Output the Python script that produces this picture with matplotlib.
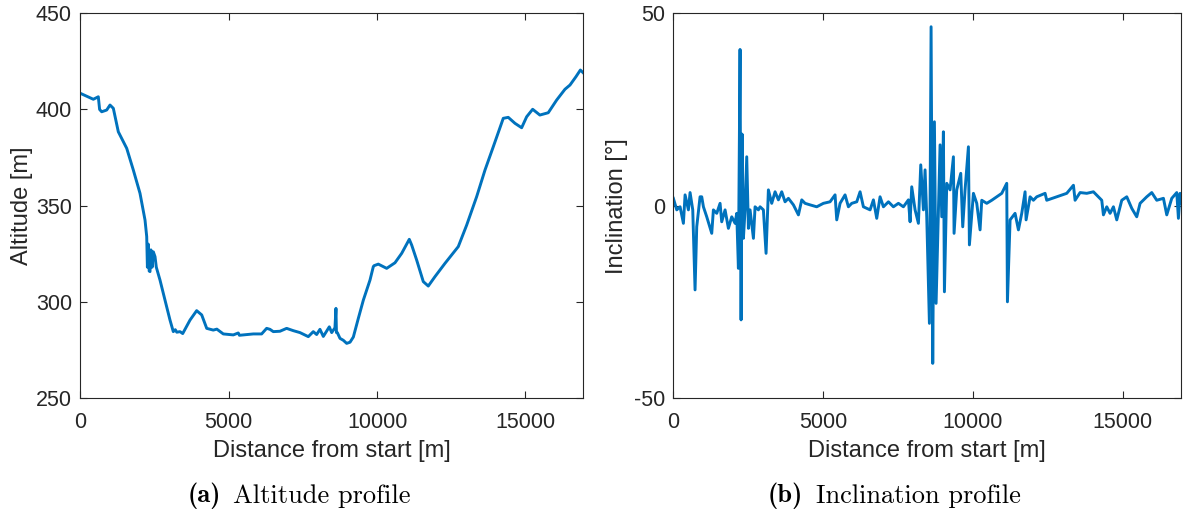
import matplotlib
matplotlib.use("Agg")
import matplotlib.pyplot as plt

plt.rcParams['font.family'] = ['Liberation Sans', 'DejaVu Sans']
plt.rcParams['axes.unicode_minus'] = False

LINE = "#0072BD"
DARK = "#262626"

# altitude profile (distance [m], altitude [m])
alt_dist = [0, 438, 606, 650, 720, 888, 1000, 1112, 1280, 1563, 1786, 2011, 2180, 2237,
            2260, 2290, 2320, 2348, 2380, 2420, 2460, 2517, 2560, 2685, 2853, 3022, 3133,
            3200, 3250, 3359, 3450, 3696, 3920, 4090, 4259, 4480, 4600, 4818, 5155, 5323,
            5360, 5829, 6109, 6278, 6390, 6502, 6727, 6952, 7177, 7401, 7682, 7850, 7963,
            8075, 8188, 8390, 8470, 8580, 8614, 8630, 8660, 8750, 8862, 8975, 9088, 9200,
            9368, 9537, 9761, 9873, 9900, 10041, 10323, 10603, 10829, 11085, 11166, 11334,
            11557, 11725, 11951, 12288, 12736, 13019, 13356, 13636, 13915, 14252, 14420,
            14646, 14871, 15040, 15242, 15485, 15768, 16051, 16331, 16500, 16700, 16850, 16950]
altitude = [408.4, 405.3, 406.6, 400, 398.8, 399.7, 402.3, 400.6, 388.4, 379.8, 368.5, 356.4,
            342.5, 333.9, 318, 330, 316, 315.7, 327, 318, 326, 323.5, 318, 311.3, 300.9, 290.5,
            284.5, 285.5, 284.2, 284.5, 283.5, 290.5, 295.4, 293.2, 286.2, 285.3, 285.8, 283.3,
            282.8, 283.8, 282.6, 283.3, 283.3, 286.2, 285.7, 284.5, 284.7, 286.2, 285, 284,
            281.9, 284.5, 283, 285.7, 282, 287, 284, 286.5, 296.6, 284, 284, 281, 280, 278.4,
            279, 281.7, 291.4, 300.9, 311.3, 318.3, 318.8, 319.6, 317.4, 320.3, 325.2, 332.5,
            329.5, 321.7, 310.5, 308.2, 313.1, 320.0, 328.7, 339.9, 354.7, 368.5, 380.6, 395.4,
            395.9, 392.8, 390.5, 396.2, 400.1, 397.1, 398.3, 404.9, 410.5, 412.7, 417, 420.5, 419]

# inclination profile (distance [m], inclination [deg])
inc_dist = [0, 113, 224, 335, 391, 502, 558, 647, 724, 780, 891, 947, 1003, 1114, 1281, 1336,
            1448, 1559, 1614, 1726, 1837, 1948, 2060, 2115, 2171, 2226, 2260, 2293, 2338, 2393,
            2449, 2505, 2560, 2672, 2727, 2838, 2894, 3005, 3094, 3172, 3283, 3395, 3506, 3617,
            3728, 3840, 4007, 4174, 4285, 4396, 4563, 4785, 5008, 5230, 5397, 5453, 5564, 5731,
            5842, 5954, 6121, 6232, 6343, 6566, 6677, 6788, 6899, 7011, 7178, 7344, 7511, 7678,
            7845, 7901, 7956, 8068, 8179, 8257, 8346, 8401, 8457, 8546, 8602, 8657, 8713, 8769,
            8847, 8902, 8958, 9013, 9047, 9125, 9236, 9347, 9369, 9458, 9592, 9658, 9736, 9848,
            9881, 10015, 10126, 10237, 10293, 10460, 10627, 10794, 10961, 11127, 11150, 11239,
            11405, 11517, 11628, 11739, 11773, 11906, 12017, 12129, 12407, 12462, 12796, 13130,
            13353, 13408, 13575, 13798, 14020, 14298, 14354, 14465, 14576, 14688, 14799, 14966,
            15133, 15300, 15466, 15578, 15800, 15967, 16134, 16357, 16468, 16635, 16802, 16857,
            16913, 16935]
inclination = [1.9, -1.1, -0.3, -4.6, 2.8, -1.1, 3.4, -1.1, -21.9, -5.5, 2.3, 2.3, -0.3, -2.9,
               -7.2, -1.1, -2.0, 0.6, -4.2, -1.1, -5.9, -2.9, -4.6, -2.0, -16.3, 40.6, -29.7,
               18.6, -8.5, -1.1, 12.7, -5.9, -1.1, -8.5, -0.3, -1.1, -0.3, -1.1, -12.4, 4.1,
               0.6, 3.6, 1.5, 3.6, 1.0, 1.9, 0.2, -2.4, 1.5, 0.6, 0.2, -0.3, 0.6, 1.0, 2.8,
               -3.7, 0.6, 2.8, -0.3, 0.6, 1.0, 3.6, -0.3, -1.1, 1.5, -3.3, 2.3, -0.3, 1.0,
               -0.3, 0.6, -0.3, 1.5, -4.2, 4.9, -1.1, -4.6, 10.6, -1.1, 9.3, -2.9, -30.6, 46.5,
               -41.0, 21.8, -25.4, -1.1, 15.8, -2.9, 19.2, -22.4, 5.8, 4.1, 12.7, -7.2, 4.1,
               8.4, -5.5, 4.1, 15.3, -10.2, 3.2, 0.6, -6.3, 1.4, 0.6, 1.4, 2.3, 3.2, 5.8, -25,
               -3.7, -2.0, -6.3, -2.0, 3.6, -3.7, 2.3, 1.4, 2.3, 3.2, 1.4, 2.3, 3.2, 5.3, 1.4,
               3.4, 3.2, 3.6, 1.4, -2.4, -0.3, -2.0, -0.3, -3.7, 1.4, 2.3, -0.7, -2.9, 0.6, 2.3,
               3.4, 1.4, 1.9, -2.4, 1.9, 3.4, -3.3, 3.2, 0.6]

alt_ticks = [250, 300, 350, 400, 450]
inc_ticks = [-50, 0, 50]
dist_ticks = [0, 5000, 10000, 15000]


def style_axes(ax):
    ax.tick_params(direction="in", length=5, width=0.8, colors=DARK, labelsize=15.5,
                   top=True, right=True)
    ax.tick_params(axis="x", pad=10)
    ax.tick_params(axis="y", pad=6)
    for s in ax.spines.values():
        s.set_color(DARK)
        s.set_linewidth(0.8)
    ax.set_xticks(dist_ticks)
    ax.set_xlabel("Distance from start [m]", fontsize=17, color=DARK, labelpad=5)


fig = plt.figure(figsize=(11.83, 5.15), dpi=100)

ax1 = fig.add_axes([0.0679, 0.2272, 0.4252, 0.747])
ax1.plot(alt_dist, altitude, color=LINE, lw=2.1)
ax1.set_xlim(0, 16950)
ax1.set_ylim(250, 450)
ax1.set_yticks(alt_ticks)
ax1.set_ylabel("Altitude [m]", fontsize=17, color=DARK, labelpad=2)
style_axes(ax1)

ax2 = fig.add_axes([0.5692, 0.2272, 0.4289, 0.747])
ax2.plot(inc_dist, inclination, color=LINE, lw=2.1)
ax2.set_xlim(0, 16935)
ax2.set_ylim(-50, 50)
ax2.set_yticks(inc_ticks)
ax2.set_ylabel("Inclination [°]", fontsize=17, color=DARK, labelpad=4)
style_axes(ax2)

# sub-captions
cap_y = 1 - 496 / 515
fig.text(221 / 1183, cap_y, "(a)", family="cmb10", fontsize=19, ha="right", va="center")
fig.text(233 / 1183, cap_y, "Altitude profile", family="cmr10", fontsize=19, ha="left", va="center")
fig.text(803 / 1183, cap_y, "(b)", family="cmb10", fontsize=19, ha="right", va="center")
fig.text(816 / 1183, cap_y, "Inclination profile", family="cmr10", fontsize=19, ha="left", va="center")

fig.savefig("out.png", dpi=100)
